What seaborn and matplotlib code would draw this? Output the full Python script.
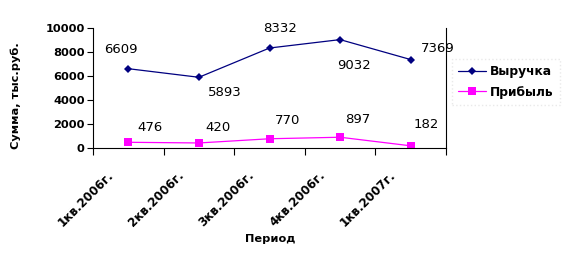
import matplotlib
matplotlib.use("Agg")
import matplotlib.pyplot as plt
from matplotlib.transforms import ScaledTranslation
import seaborn as sns
import pandas as pd

periods = ["1кв.2006г.", "2кв.2006г.", "3кв.2006г.", "4кв.2006г.", "1кв.2007г."]
revenue = [6609, 5893, 8332, 9032, 7369]
profit = [476, 420, 770, 897, 182]
series_names = ["Выручка", "Прибыль"]
y_ticks = [0, 2000, 4000, 6000, 8000, 10000]

df = pd.DataFrame({
    "Период": periods * 2,
    "value": revenue + profit,
    "series": [series_names[0]] * len(periods) + [series_names[1]] * len(periods),
})

sns.set_style("white")
plt.rcParams['font.family'] = ['DejaVu Sans']
plt.rcParams['text.color'] = 'black'
plt.rcParams['axes.labelcolor'] = 'black'
plt.rcParams['xtick.color'] = 'black'
plt.rcParams['ytick.color'] = 'black'

fig = plt.figure(figsize=(5.74, 2.65), dpi=100)
ax = fig.add_axes([93/574, 1 - 148/265, (446 - 93)/574, 120/265])

palette = {series_names[0]: "#000080", series_names[1]: "#FF00FF"}
sns.lineplot(data=df, x="Период", y="value", hue="series", style="series",
             markers={series_names[0]: "D", series_names[1]: "s"},
             dashes=False, palette=palette, linewidth=0.9, ax=ax,
             markeredgewidth=0, sort=False)
for line in ax.lines:
    if line.get_marker() == "D":
        line.set_markersize(4.5)
    else:
        line.set_markersize(5.8)

ax.set_xlim(-0.5, len(periods) - 0.5)
ax.set_ylim(0, 10000)
ax.set_yticks(y_ticks)
ax.set_yticklabels([str(v) for v in y_ticks], fontsize=8.2, fontweight="bold")

ax.set_xticks([i - 0.5 for i in range(len(periods) + 1)])
ax.set_xticklabels([])
ax.set_xticks(range(len(periods)), minor=True)
ax.set_xticklabels(periods, minor=True, rotation=45, ha="right", va="center",
                   rotation_mode="anchor", fontsize=8.6, fontweight="bold")
ax.tick_params(axis="x", which="major", direction="out", length=5, width=0.8,
               bottom=True, color="black")
ax.tick_params(axis="x", which="minor", length=0, pad=18)
ax.tick_params(axis="y", direction="out", length=4, width=0.8, left=True,
               color="black", pad=2)
for lab in ax.get_xticklabels(minor=True):
    lab.set_transform(lab.get_transform() + ScaledTranslation(-0.17, 0, fig.dpi_scale_trans))

for s in ["left", "bottom", "right"]:
    ax.spines[s].set_visible(True)
    ax.spines[s].set_color("black")
    ax.spines[s].set_linewidth(0.8)
ax.spines["top"].set_visible(False)

ax.set_xlabel("Период", fontsize=8.2, fontweight="bold")
ax.xaxis.set_label_coords((270 - 93)/353, -(234 - 148)/120)
ax.set_ylabel("Сумма, тыс.руб.", fontsize=8.2, fontweight="bold")
ax.yaxis.set_label_coords(-(93 - 21)/353, 0.44)

rev_off = [(-7, 19), (26, -15), (11, 20), (14, -26), (27, 11)]
prof_off = [(22, 15), (19, 15), (18, 18), (18, 18), (16, 21)]
for i, v in enumerate(revenue):
    dx, dy = rev_off[i]
    ax.annotate(str(v), (i, v), xytext=(dx * 0.72, dy * 0.72), textcoords="offset points",
                ha="center", va="center", fontsize=9.5, color="black", annotation_clip=False)
for i, v in enumerate(profit):
    dx, dy = prof_off[i]
    ax.annotate(str(v), (i, v), xytext=(dx * 0.72, dy * 0.72), textcoords="offset points",
                ha="center", va="center", fontsize=9.5, color="black", annotation_clip=False)

handles, labels = ax.get_legend_handles_labels()
leg = ax.legend(handles, labels, loc="center left", bbox_to_anchor=(452/574, 1 - 82/265),
                bbox_transform=fig.transFigure, frameon=True, fancybox=False,
                edgecolor="#e4e4e4", prop={"weight": "bold", "size": 8.8},
                handlelength=2.3, handletextpad=0.3, borderpad=0.5, labelspacing=0.6,
                borderaxespad=0)
leg.get_frame().set_linestyle(":")

fig.savefig("out.png", dpi=100)
